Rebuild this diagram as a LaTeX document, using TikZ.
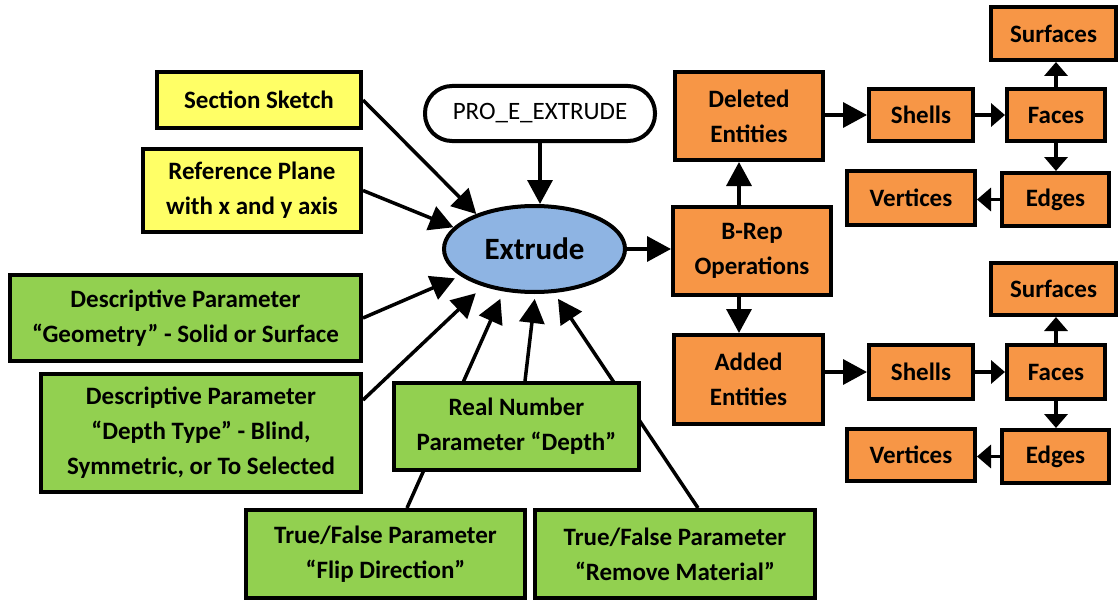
\documentclass[tikz,border=0pt]{standalone}
\usepackage{fontspec}
\setmainfont{Carlito}
\usetikzlibrary{arrows.meta,shapes.geometric,backgrounds,calc}
\definecolor{yel}{HTML}{FFFF66}
\definecolor{grn}{HTML}{92D050}
\definecolor{org}{HTML}{F79646}
\definecolor{blu}{HTML}{8EB4E3}
\begin{document}
\begin{tikzpicture}[x=1pt,y=-1pt,
  box/.style={draw=black, line width=4pt, rectangle, inner sep=0pt, align=center,
    font=\fontsize{25}{35}\selectfont\bfseries, text=black},
  ybox/.style={box, fill=yel},
  gbox/.style={box, fill=grn},
  obox/.style={box, fill=org},
  sz/.style 2 args={minimum width=#1, minimum height=#2},
  arr/.style={line width=3.5pt, -{Triangle[length=24pt,width=25pt]}},
  sarr/.style={line width=3.5pt, -{Triangle[length=14pt,width=23pt]}}
]
\useasboundingbox (0,0) rectangle (1120,602);

% left inputs
\node[ybox, sz={204pt}{56pt}] (sec) at (259,100) {Section Sketch};
\node[ybox, sz={218pt}{83pt}] (ref) at (252,190.5) {Reference Plane\\with x and y axis};
\node[box, fill=white, rounded corners=27pt, sz={230pt}{55pt}, font=\fontsize{25}{35}\selectfont] (pro) at (540,113.5) {PRO\_E\_EXTRUDE};
\node[draw=black, line width=4pt, ellipse, fill=blu, inner sep=0pt, sz={181pt}{86pt},
  font=\fontsize{31}{36}\selectfont\bfseries] (ext) at (534.5,249) {Extrude};

\node[gbox, sz={351pt}{86pt}] (geo) at (185.5,318) {Descriptive Parameter\\“Geometry” - Solid or Surface};
\node[gbox, sz={320pt}{118pt}] (dep) at (201,433) {Descriptive Parameter\\“Depth Type” - Blind,\\Symmetric, or To Selected};
\node[gbox, sz={245pt}{87pt}] (real) at (516.5,426.5) {Real Number\\Parameter “Depth”};
\node[gbox, sz={279pt}{88pt}] (flip) at (385.5,554) {True/False Parameter\\“Flip Direction”};
\node[gbox, sz={280pt}{88pt}] (rem) at (675,554) {True/False Parameter\\“Remove Material”};

% B-Rep side
\node[obox, sz={148pt}{88pt}] (del) at (749,116) {Deleted\\Entities};
\node[obox, sz={158pt}{88pt}] (brep) at (752,251) {B-Rep\\Operations};
\node[obox, sz={149pt}{89pt}] (add) at (748.5,379.5) {Added\\Entities};

\node[obox, sz={104pt}{52pt}] (sh1) at (921,115) {Shells};
\node[obox, sz={98pt}{52pt}] (fa1) at (1056,115) {Faces};
\node[obox, sz={125pt}{53pt}] (su1) at (1053.5,33.5) {Surfaces};
\node[obox, sz={107pt}{53pt}] (ed1) at (1055.5,199.5) {Edges};
\node[obox, sz={128pt}{54pt}] (ve1) at (911,198) {Vertices};

\node[obox, sz={125pt}{52pt}] (su2) at (1053.5,289) {Surfaces};
\node[obox, sz={104pt}{54pt}] (sh2) at (921,372) {Shells};
\node[obox, sz={98pt}{54pt}] (fa2) at (1056,372) {Faces};
\node[obox, sz={107pt}{53pt}] (ed2) at (1055.5,456.5) {Edges};
\node[obox, sz={128pt}{52pt}] (ve2) at (911,455) {Vertices};

\begin{pgfonlayer}{background}
  \draw[arr] (sec.east) -- (ext.149);
  \draw[arr] (ref.east) -- (ext.165);
  \draw[arr, shorten >=6pt] (geo.east) -- (ext.200);
  \draw[arr, shorten >=10pt] ([yshift=33pt]dep.east) -- (ext.216);
  \draw[arr, shorten >=8pt] ([xshift=21.5pt]flip.north) -- (ext.234);
  \draw[arr, shorten >=5pt] ([xshift=8.5pt]real.north) -- (ext.271);
  \draw[arr, shorten >=7pt] ([xshift=23pt]rem.north) -- (ext.294);
  \draw[arr] (pro.south) -- (pro.south |- ext.north);
  \draw[arr] (ext.east) -- (ext.east -| brep.west);
  \draw[arr] ([xshift=-13pt]brep.north) -- ([xshift=-13pt]brep.north |- del.south);
  \draw[arr] ([xshift=-13pt]brep.south) -- ([xshift=-13pt]brep.south |- add.north);

  \draw[arr] (del.east |- sh1.west) -- (sh1.west);
  \draw[sarr] (sh1.east) -- (fa1.west);
  \draw[sarr] (fa1.north) -- (fa1.north |- su1.south);
  \draw[sarr] (fa1.south) -- (fa1.south |- ed1.north);
  \draw[sarr] (ed1.west) -- (ed1.west -| ve1.east);

  \draw[arr] (add.east |- sh2.west) -- (sh2.west);
  \draw[sarr] (sh2.east) -- (fa2.west);
  \draw[sarr] (fa2.north) -- (fa2.north |- su2.south);
  \draw[sarr] (fa2.south) -- (fa2.south |- ed2.north);
  \draw[sarr] (ed2.west) -- (ed2.west -| ve2.east);
\end{pgfonlayer}
\end{tikzpicture}
\end{document}
